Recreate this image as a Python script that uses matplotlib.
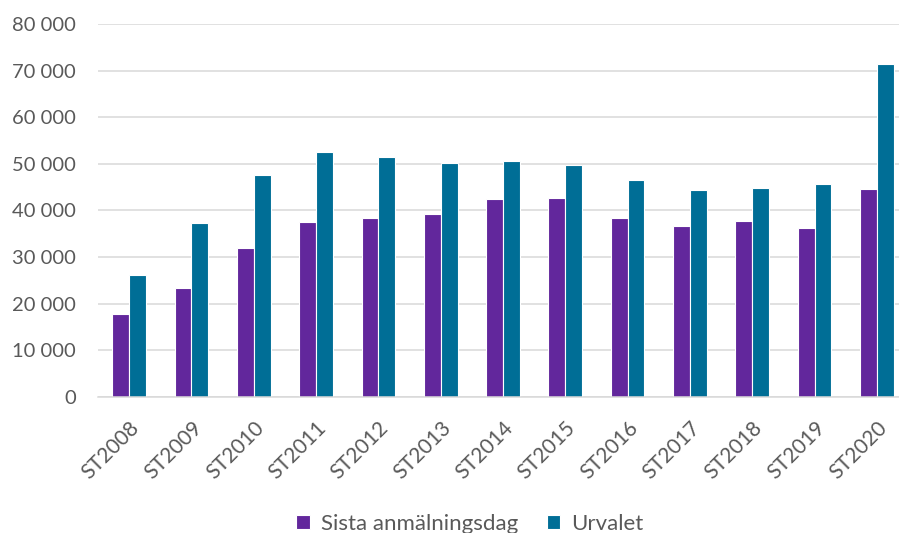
import matplotlib.pyplot as plt
import numpy as np
from matplotlib.ticker import FuncFormatter

plt.rcParams['font.family'] = ['Lato', 'DejaVu Sans']

# Data
terminer = ['ST2008', 'ST2009', 'ST2010', 'ST2011', 'ST2012', 'ST2013', 'ST2014',
            'ST2015', 'ST2016', 'ST2017', 'ST2018', 'ST2019', 'ST2020']
sista_anmalningsdag = [17700, 23300, 32000, 37400, 38300, 39200, 42500,
                       42600, 38400, 36600, 37700, 36300, 44500]
urvalet = [26100, 37300, 47550, 52450, 51400, 50200, 50650,
           49700, 46600, 44400, 44800, 45600, 71500]

lila = '#62279c'
bla = '#006e96'
grå_text = '#595959'
grid_färg = '#d9d9d9'

fig = plt.figure(figsize=(8.99, 5.33), dpi=100)
ax = fig.add_axes([98 / 899, 1 - 396.7 / 533, 810 / 899, (396.7 - 24) / 533])

x = np.arange(len(terminer))
bredd = 0.27
ax.bar(x - bredd / 2, sista_anmalningsdag, bredd, color=lila, edgecolor='white',
       linewidth=0.8, label='Sista anmälningsdag', zorder=3)
ax.bar(x + bredd / 2, urvalet, bredd, color=bla, edgecolor='white',
       linewidth=0.8, label='Urvalet', zorder=3)

ax.set_xlim(-0.5, len(terminer) - 0.5)
ax.set_ylim(0, 80000)
ax.set_yticks(range(0, 80001, 10000))
ax.yaxis.set_major_formatter(FuncFormatter(lambda v, p: f'{int(v):,}'.replace(',', ' ')))
ax.grid(axis='y', color=grid_färg, linewidth=1.1, zorder=0)

for s in ['top', 'right', 'left']:
    ax.spines[s].set_visible(False)
ax.spines['bottom'].set_color(grid_färg)
ax.spines['bottom'].set_linewidth(1.1)
ax.spines['bottom'].set_zorder(4)

ax.set_xticks(x)
ax.set_xticklabels(terminer, rotation=45, ha='right', rotation_mode='anchor')
ax.tick_params(axis='x', length=0, pad=15, labelsize=15, labelcolor=grå_text)
ax.tick_params(axis='y', length=0, pad=16, labelsize=14.5, labelcolor=grå_text)

fig.legend(loc='center', bbox_to_anchor=(470 / 899, 1 - 524 / 533), ncol=2,
           frameon=False, fontsize=16, labelcolor=grå_text, handlelength=0.6,
           handleheight=0.6, handletextpad=0.5, columnspacing=1.3)

fig.savefig('out.png', dpi=100)
